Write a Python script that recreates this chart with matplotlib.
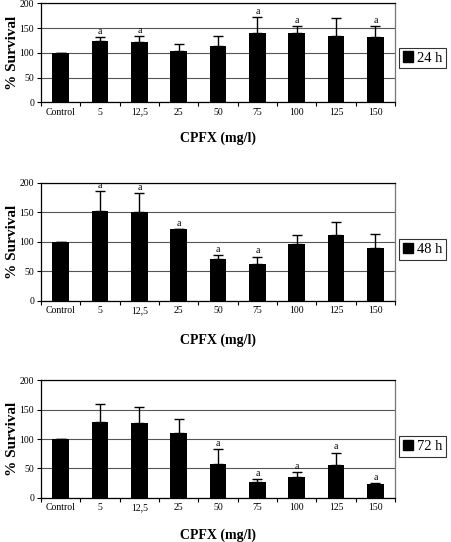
import numpy as np
import matplotlib
matplotlib.use('Agg')
import matplotlib.pyplot as plt
from matplotlib.patches import Patch

plt.rcParams['font.family'] = ['Liberation Serif', 'DejaVu Serif']

# Konsantrasyonlar
kategoriler = ['Control', '5', '12,5', '25', '50', '75', '100', '125', '150']

# 24 h
surv_24 = [100, 124, 121, 103, 114, 140, 139, 133, 132]
hata_24 = [0, 7, 13, 14, 19, 33, 16, 37, 22]
isaret_24 = [0, 1, 1, 0, 0, 1, 1, 0, 1]

# 48 h
surv_48 = [100, 153, 151, 121, 70, 62, 97, 111, 90]
hata_48 = [0, 33, 32, 1, 8, 13, 15, 23, 23]
isaret_48 = [0, 1, 1, 1, 1, 1, 0, 0, 0]

# 72 h
surv_72 = [100, 129, 128, 110, 58, 26, 35, 56, 24]
hata_72 = [0, 31, 27, 24, 25, 6, 8, 21, 1]
isaret_72 = [0, 0, 0, 0, 1, 1, 1, 1, 1]

paneller = [
    ('24 h', surv_24, hata_24, isaret_24),
    ('48 h', surv_48, hata_48, isaret_48),
    ('72 h', surv_72, hata_72, isaret_72),
]

# eksen konumlari (sol, alt, genislik, yukseklik)
konumlar = [
    [0.0909, 0.8113, 0.785, 0.1827],
    [0.0909, 0.4452, 0.785, 0.2172],
    [0.0909, 0.0817, 0.785, 0.2165],
]
lejant_y = [0.893, 0.540, 0.176]
xlabel_y = [-0.30, -0.28, -0.265]

fig = plt.figure(figsize=(4.51, 5.42), dpi=100)
x = np.arange(len(kategoriler))

for (etiket, deger, hata, isaret), pos, ly, xly in zip(paneller, konumlar, lejant_y, xlabel_y):
    ax = fig.add_axes(pos)
    ax.bar(x, deger, width=0.43, color='black', zorder=3)
    ust = [h if h > 0 else 0 for h in hata]
    ax.errorbar(x, deger, yerr=[np.zeros(len(x)), ust], fmt='none',
                ecolor='black', elinewidth=1.0, capsize=3.5, capthick=1.0, zorder=2)
    for xi, d, h, s in zip(x, deger, hata, isaret):
        if s:
            ax.text(xi, d + h + 2, 'a', ha='center', va='bottom', fontsize=7)

    ax.set_xlim(-0.5, 8.5)
    ax.set_ylim(0, 200)
    ax.set_yticks([0, 50, 100, 150, 200])
    ax.yaxis.grid(True, color='#555555', linewidth=0.8, zorder=0)
    ax.set_axisbelow(True)
    ax.set_xticks(x)
    ax.set_xticklabels(kategoriler)
    for lab in ax.get_xticklabels():
        lab.set_va('baseline')
    ax.set_xticks(np.arange(-0.5, 9, 1), minor=True)
    ax.tick_params(axis='x', which='major', length=0, labelsize=7, pad=9)
    ax.tick_params(axis='x', which='minor', length=3, width=0.8, direction='out')
    ax.tick_params(axis='y', labelsize=7, length=3, width=0.8, direction='out', pad=2)
    for sp in ax.spines.values():
        sp.set_linewidth(0.9)
        sp.set_color('black')
    ax.spines['right'].set_color('#777777')

    ax.set_ylabel('% Survival', fontsize=11, fontweight='bold')
    ax.yaxis.set_label_coords(-0.063, 0.5)
    ax.set_xlabel('CPFX (mg/l)', fontsize=10, fontweight='bold')
    ax.xaxis.set_label_coords(0.5, xly)

    leg = fig.legend(handles=[Patch(facecolor='black', edgecolor='black', label=etiket)],
                     loc='center right', bbox_to_anchor=(0.99, ly), fontsize=10.5,
                     frameon=True, fancybox=False, handlelength=0.7, handleheight=0.7,
                     handletextpad=0.3, borderpad=0.25, borderaxespad=0)
    leg.get_frame().set_edgecolor('black')
    leg.get_frame().set_linewidth(0.8)

plt.savefig('out.png', dpi=100)
